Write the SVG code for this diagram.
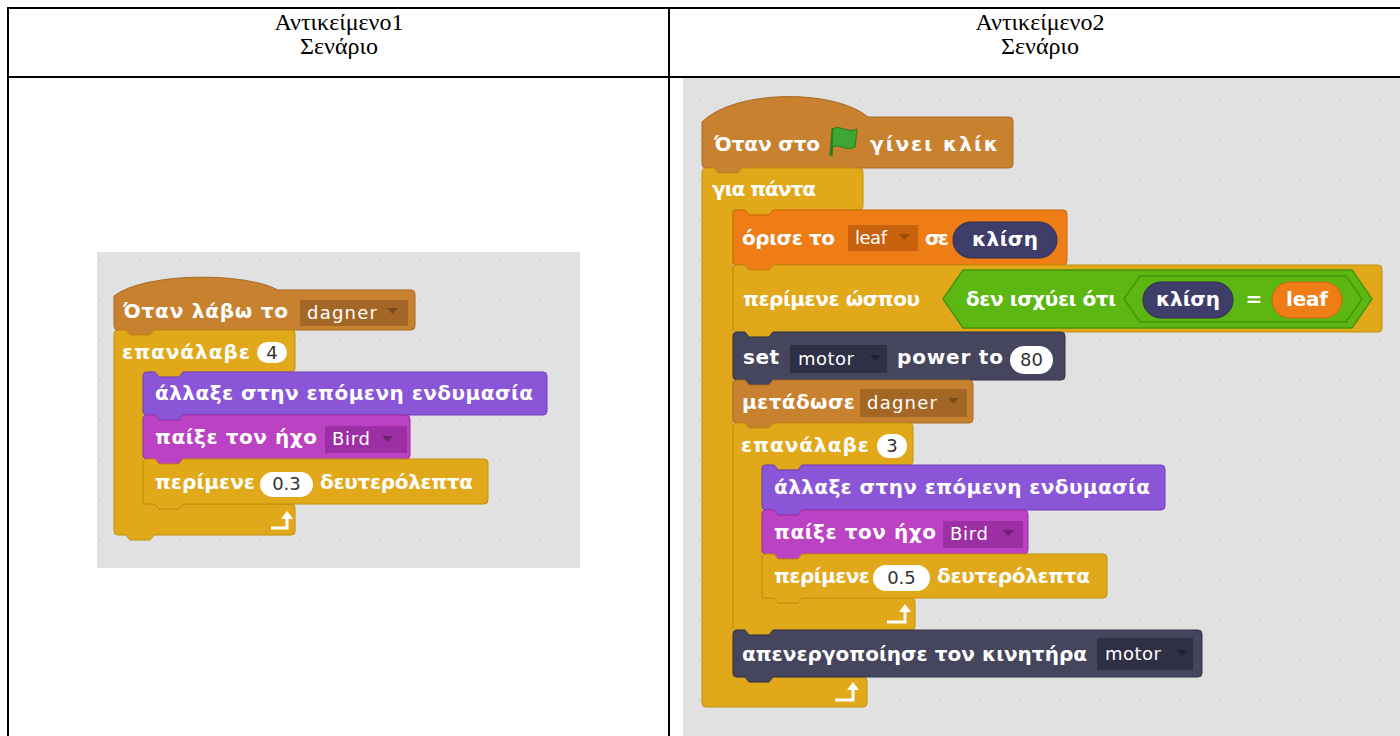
<svg xmlns="http://www.w3.org/2000/svg" width="1400" height="736" viewBox="0 0 1400 736">
  <defs>
    <pattern id="dots" width="40" height="40" patternUnits="userSpaceOnUse">
      <rect width="40" height="40" fill="#e1e1e1"/>
      <circle cx="20" cy="20" r="1.1" fill="#d2d2d2"/>
      <circle cx="25" cy="20" r="1.1" fill="#d6d6d6"/>
    </pattern>
    <style>
      .hdr { font-family: "Liberation Serif", "Times New Roman", serif; font-size: 24px; fill: #000; text-anchor: middle; }
      .grid { stroke: #000; stroke-width: 2; fill: none; }
      .t { font-family: "DejaVu Sans", "Liberation Sans", sans-serif; font-weight: bold; font-size: 20px; fill: #fff; }
      .tc { font-family: "DejaVu Sans", "Liberation Sans", sans-serif; font-weight: bold; font-size: 20px; fill: #fff; text-anchor: middle; }
      .dd { font-family: "DejaVu Sans", "Liberation Sans", sans-serif; font-size: 18px; fill: #fff; }
      .num { font-family: "DejaVu Sans", "Liberation Sans", sans-serif; font-size: 18px; fill: #333; text-anchor: middle; }
      .ev { fill: #c7812f; stroke: #a86a24; stroke-width: 1; }
      .evd { fill: #a46624; }
      .ctl { fill: #e1a91a; stroke: #c28e0c; stroke-width: 1; }
      .look { fill: #8a55d7; stroke: #6f3fbd; stroke-width: 1; }
      .snd { fill: #bb42c3; stroke: #9a2ea3; stroke-width: 1; }
      .sndd { fill: #9b2fa3; }
      .data { fill: #ee7d16; stroke: #cf650a; stroke-width: 1; }
      .datad { fill: #c8620c; }
      .ext { fill: #45455e; stroke: #32324a; stroke-width: 1; }
      .extd { fill: #2f2f45; }
      .op { fill: #5cb712; stroke: #46930a; stroke-width: 1.5; }
      .rep { fill: #3f3d6a; stroke: #2e2c55; stroke-width: 1; }
      .oval { fill: #fff; }
      .tri { fill: #7a4a1a; }
      .tri2 { fill: #6d1f74; }
      .tri3 { fill: #9a4a08; }
      .tri4 { fill: #1f1f30; }
      .arr { fill: none; stroke: #fff; stroke-width: 3; }
    </style>
  </defs>

  <!-- table frame -->
  <g id="table">
    <line class="grid" x1="8" y1="8" x2="1400" y2="8"/>
    <line class="grid" x1="8" y1="77" x2="1400" y2="77"/>
    <line class="grid" x1="8" y1="7" x2="8" y2="736"/>
    <line class="grid" x1="669" y1="7" x2="669" y2="736"/>
    <text class="hdr" x="339" y="30">Αντικείμενο1</text>
    <text class="hdr" x="339" y="54">Σενάριο</text>
    <text class="hdr" x="1040" y="30">Αντικείμενο2</text>
    <text class="hdr" x="1040" y="54">Σενάριο</text>
  </g>

  <!-- script areas -->
  <rect x="97" y="252" width="483" height="316" fill="url(#dots)"/>
  <rect x="683" y="78" width="717" height="658" fill="url(#dots)"/>

  <!-- script of object 1 -->
  <g id="s1-hat">
    <path class="ev" d="M 114,296 C 145,272 245,272 278,290 H 411 Q 415,290 415,294 V 326 Q 415,330 411,330 H 154 L 150,335 H 130 L 126,330 H 118 Q 114,330 114,326 Z"/>
    <text class="t" x="123" y="318" textLength="165">Όταν λάβω το</text>
    <rect class="evd" x="300" y="300" width="108" height="26"/>
    <text class="dd" x="307" y="319" textLength="70">dagner</text>
    <polygon class="tri" points="387,308 398,308 392.5,314"/>
  </g>
  <g id="s1-repeat">
    <path class="ctl" d="M 114,334 Q 114,330 118,330 H 126 L 130,335 H 150 L 154,330 H 291 Q 295,330 295,334 V 368 Q 295,372 291,372 H 183 L 179,377 H 159 L 155,372 H 143 V 504 H 155 L 159,509 H 179 L 183,504 H 291 Q 295,504 295,508 V 531 Q 295,535 291,535 H 154 L 150,540 H 130 L 126,535 H 118 Q 114,535 114,531 Z"/>
    <text class="t" x="122" y="359" textLength="128">επανάλαβε</text>
    <rect class="oval" x="257" y="342" width="30" height="21" rx="10.5"/>
    <text class="num" x="272" y="359">4</text>
    <path class="arr" d="M 271,528 H 287 V 518"/>
    <polygon fill="#fff" points="281,519 293,519 287,511"/>
  </g>
  <g id="s1-costume">
    <path class="look" d="M 143,376 Q 143,372 147,372 H 155 L 159,377 H 179 L 183,372 H 543 Q 547,372 547,376 V 411 Q 547,415 543,415 H 183 L 179,420 H 159 L 155,415 H 147 Q 143,415 143,411 Z"/>
    <text class="t" x="155" y="400" textLength="378">άλλαξε στην επόμενη ενδυμασία</text>
  </g>
  <g id="s1-sound">
    <path class="snd" d="M 143,419 Q 143,415 147,415 H 155 L 159,420 H 179 L 183,415 H 406 Q 410,415 410,419 V 455 Q 410,459 406,459 H 183 L 179,464 H 159 L 155,459 H 147 Q 143,459 143,455 Z"/>
    <text class="t" x="155" y="444" textLength="162">παίξε τον ήχο</text>
    <rect class="sndd" x="325" y="426" width="82" height="27"/>
    <text class="dd" x="332" y="445" textLength="38">Bird</text>
    <polygon class="tri2" points="382,436 393,436 387.5,442"/>
  </g>
  <g id="s1-wait">
    <path class="ctl" d="M 143,463 Q 143,459 147,459 H 155 L 159,464 H 179 L 183,459 H 484 Q 488,459 488,463 V 500 Q 488,504 484,504 H 183 L 179,509 H 159 L 155,504 H 147 Q 143,504 143,500 Z"/>
    <text class="t" x="155" y="489" textLength="100">περίμενε</text>
    <rect class="oval" x="260" y="472" width="53" height="25" rx="12.5"/>
    <text class="num" x="286.5" y="490">0.3</text>
    <text class="t" x="320" y="489" textLength="153">δευτερόλεπτα</text>
  </g>

  <!-- script of object 2 -->
  <g id="s2-hat">
    <path class="ev" d="M 702,122 C 735,89 835,89 868,117 H 1009 Q 1013,117 1013,121 V 164 Q 1013,168 1009,168 H 742 L 738,173 H 718 L 714,168 H 706 Q 702,168 702,164 Z"/>
    <text class="t" x="714" y="151" textLength="106">Όταν στο</text>
    <line x1="831" y1="156" x2="833" y2="128" stroke="#2a7a1e" stroke-width="3"/>
    <path d="M 833,129 C 840,124 847,134 857,129 L 855,147 C 846,152 839,143 832,147 Z" fill="#3ea632" stroke="#2a7a1e" stroke-width="1"/>
    <text class="t" x="870" y="151" textLength="128">γίνει κλίκ</text>
  </g>
  <g id="s2-forever">
    <path class="ctl" d="M 702,172 Q 702,168 706,168 H 714 L 718,173 H 738 L 742,168 H 859 Q 863,168 863,172 V 206 Q 863,210 859,210 H 773 L 769,215 H 749 L 745,210 H 733 V 677 H 745 L 749,682 H 769 L 773,677 H 863 Q 867,677 867,681 V 703 Q 867,707 863,707 H 706 Q 702,707 702,703 Z"/>
    <text class="t" x="712" y="196" textLength="104">για πάντα</text>
    <path class="arr" d="M 835,700 H 853 V 689"/>
    <polygon fill="#fff" points="847,690 859,690 853,682"/>
  </g>
  <g id="s2-setvar">
    <path class="data" d="M 733,214 Q 733,210 737,210 H 745 L 749,215 H 769 L 773,210 H 1063 Q 1067,210 1067,214 V 261 Q 1067,265 1063,265 H 773 L 769,270 H 749 L 745,265 H 737 Q 733,265 733,261 Z"/>
    <text class="t" x="742" y="245" textLength="93">όρισε το</text>
    <rect class="datad" x="848" y="225" width="70" height="26"/>
    <text class="dd" x="855" y="244" textLength="32">leaf</text>
    <polygon class="tri3" points="899,234 910,234 904.5,240"/>
    <text class="t" x="925" y="245" textLength="24">σε</text>
    <rect class="rep" x="953" y="222" width="104" height="36" rx="18"/>
    <text class="tc" x="1005" y="246" textLength="66">κλίση</text>
  </g>
  <g id="s2-waituntil">
    <path class="ctl" d="M 733,269 Q 733,265 737,265 H 745 L 749,270 H 769 L 773,265 H 1378 Q 1382,265 1382,269 V 328 Q 1382,332 1378,332 H 773 L 769,337 H 749 L 745,332 H 737 Q 733,332 733,328 Z"/>
    <text class="t" x="743" y="306" textLength="177">περίμενε ώσπου</text>
    <path class="op" d="M 943,299 L 963,270 H 1352 L 1372,299 L 1352,328 H 963 Z"/>
    <text class="t" x="966" y="306" textLength="150">δεν ισχύει ότι</text>
    <path class="op" d="M 1124,299 L 1140,276 H 1346 L 1362,299 L 1346,322 H 1140 Z"/>
    <rect class="rep" x="1143" y="282" width="90" height="36" rx="18"/>
    <text class="tc" x="1188" y="306" textLength="64">κλίση</text>
    <text class="tc" x="1254" y="306">=</text>
    <rect class="data" x="1272" y="282" width="70" height="36" rx="18"/>
    <text class="tc" x="1307" y="306" textLength="42">leaf</text>
  </g>
  <g id="s2-motorpower">
    <path class="ext" d="M 733,336 Q 733,332 737,332 H 745 L 749,337 H 769 L 773,332 H 1061 Q 1065,332 1065,336 V 376 Q 1065,380 1061,380 H 773 L 769,385 H 749 L 745,380 H 737 Q 733,380 733,376 Z"/>
    <text class="t" x="743" y="364" textLength="36">set</text>
    <rect class="extd" x="790" y="345" width="97" height="28"/>
    <text class="dd" x="798" y="365" textLength="56">motor</text>
    <polygon class="tri4" points="870,355 881,355 875.5,361"/>
    <text class="t" x="897" y="364" textLength="106">power to</text>
    <rect class="oval" x="1010" y="346" width="43" height="28" rx="14"/>
    <text class="num" x="1031.5" y="366">80</text>
  </g>
  <g id="s2-broadcast">
    <path class="ev" d="M 733,384 Q 733,380 737,380 H 745 L 749,385 H 769 L 773,380 H 969 Q 973,380 973,384 V 419 Q 973,423 969,423 H 773 L 769,428 H 749 L 745,423 H 737 Q 733,423 733,419 Z"/>
    <text class="t" x="742" y="409" textLength="113">μετάδωσε</text>
    <rect class="evd" x="860" y="389" width="107" height="28"/>
    <text class="dd" x="867" y="409" textLength="70">dagner</text>
    <polygon class="tri" points="948,398 959,398 953.5,404"/>
  </g>
  <g id="s2-repeat">
    <path class="ctl" d="M 733,427 Q 733,423 737,423 H 745 L 749,428 H 769 L 773,423 H 909 Q 913,423 913,427 V 461 Q 913,465 909,465 H 802 L 798,470 H 778 L 774,465 H 762 V 598 H 774 L 778,603 H 798 L 802,598 H 911 Q 915,598 915,602 V 626 Q 915,630 911,630 H 773 L 769,635 H 749 L 745,630 H 737 Q 733,630 733,626 Z"/>
    <text class="t" x="741" y="452" textLength="128">επανάλαβε</text>
    <rect class="oval" x="877" y="434" width="30" height="24" rx="12"/>
    <text class="num" x="892" y="452">3</text>
    <path class="arr" d="M 887,622 H 905 V 611"/>
    <polygon fill="#fff" points="899,612 911,612 905,604"/>
  </g>
  <g id="s2-costume">
    <path class="look" d="M 762,469 Q 762,465 766,465 H 774 L 778,470 H 798 L 802,465 H 1161 Q 1165,465 1165,469 V 506 Q 1165,510 1161,510 H 802 L 798,515 H 778 L 774,510 H 766 Q 762,510 762,506 Z"/>
    <text class="t" x="774" y="494" textLength="376">άλλαξε στην επόμενη ενδυμασία</text>
  </g>
  <g id="s2-sound">
    <path class="snd" d="M 762,514 Q 762,510 766,510 H 774 L 778,515 H 798 L 802,510 H 1024 Q 1028,510 1028,514 V 550 Q 1028,554 1024,554 H 802 L 798,559 H 778 L 774,554 H 766 Q 762,554 762,550 Z"/>
    <text class="t" x="774" y="539" textLength="162">παίξε τον ήχο</text>
    <rect class="sndd" x="943" y="521" width="80" height="27"/>
    <text class="dd" x="950" y="540" textLength="38">Bird</text>
    <polygon class="tri2" points="1003,530 1014,530 1008.5,536"/>
  </g>
  <g id="s2-wait">
    <path class="ctl" d="M 762,558 Q 762,554 766,554 H 774 L 778,559 H 798 L 802,554 H 1103 Q 1107,554 1107,558 V 594 Q 1107,598 1103,598 H 802 L 798,603 H 778 L 774,598 H 766 Q 762,598 762,594 Z"/>
    <text class="t" x="774" y="583" textLength="96">περίμενε</text>
    <rect class="oval" x="873" y="565" width="57" height="26" rx="13"/>
    <text class="num" x="901.5" y="584">0.5</text>
    <text class="t" x="937" y="583" textLength="153">δευτερόλεπτα</text>
  </g>
  <g id="s2-motoroff">
    <path class="ext" d="M 733,634 Q 733,630 737,630 H 745 L 749,635 H 769 L 773,630 H 1198 Q 1202,630 1202,634 V 673 Q 1202,677 1198,677 H 773 L 769,682 H 749 L 745,677 H 737 Q 733,677 733,673 Z"/>
    <text class="t" x="742" y="661" textLength="345">απενεργοποίησε τον κινητήρα</text>
    <rect class="extd" x="1097" y="638" width="96" height="32"/>
    <text class="dd" x="1105" y="660" textLength="56">motor</text>
    <polygon class="tri4" points="1176,650 1187,650 1181.5,656"/>
  </g>
</svg>
